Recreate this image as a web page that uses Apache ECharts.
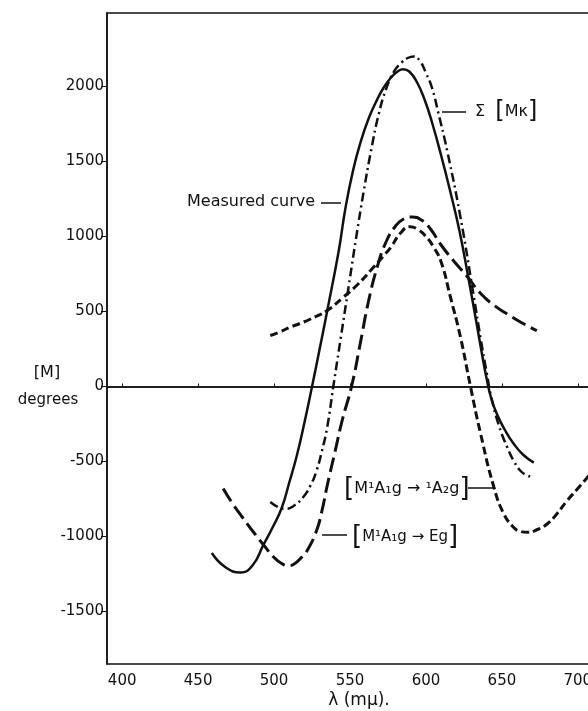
<!DOCTYPE html>
<html>
<head>
<meta charset="utf-8">
<script src="https://cdn.jsdelivr.net/npm/echarts@6/dist/echarts.min.js"></script>
<style>
  html, body { margin: 0; padding: 0; background: #fff; }
  #chart { width: 588px; height: 711px; }
</style>
</head>
<body>
<div id="chart"></div>
<script>
// wavelength (mμ) and molar rotation [M]
const measuredLambda = [459, 468, 478, 486, 493, 499, 505, 510, 515, 520, 525, 530, 535, 542.5, 547, 552, 557, 562, 567, 572, 577, 582, 585, 589, 594, 599, 604, 610, 616, 622, 628, 633, 637, 640, 643, 647, 652, 658, 664, 671]
const measuredM = [-1110, -1205, -1240, -1190, -1055, -940, -810, -640, -460, -240, 0, 250, 505, 900, 1190, 1440, 1630, 1780, 1895, 1990, 2060, 2105, 2115, 2100, 2030, 1915, 1760, 1540, 1300, 1040, 720, 440, 210, 50, -80, -190, -290, -385, -455, -508]

const sumLambda = [497.5, 503, 508, 513, 519, 524, 528, 531.5, 535, 539, 544, 549, 554, 559, 564, 569, 574, 579, 584, 588, 592, 596, 600, 604, 608, 614, 622.5, 631.5, 636, 640, 643, 648, 653.5, 658, 662, 666, 670]
const sumM = [-770, -805, -815, -795, -740, -660, -560, -430, -270, 0, 330, 660, 990, 1300, 1580, 1820, 1990, 2100, 2160, 2190, 2200, 2170, 2090, 1990, 1830, 1570, 1140, 600, 320, 90, -70, -260, -405, -500, -560, -590, -605]

const egLambda = [466.5, 472, 479, 486, 493, 500, 505, 509, 513, 518, 522, 528, 531.5, 535, 540, 545, 551, 557, 562, 568, 574, 580, 585, 591, 597, 603, 609.5, 618, 627, 636, 645, 654, 663, 673]
const egM = [-680, -770, -870, -965, -1055, -1140, -1180, -1195, -1185, -1140, -1090, -960, -830, -660, -440, -220, 0, 300, 560, 800, 970, 1070, 1115, 1130, 1110, 1050, 950, 840, 735, 620, 540, 480, 425, 373]

const a2gLambda = [497.5, 504, 510.5, 517, 524, 535, 545, 555, 565, 572, 577, 583, 589.5, 595, 600, 605, 610, 616, 622.7, 629.3, 636, 644.7, 651.3, 657.8, 662, 667, 673, 680, 686.5, 693, 700, 708.5]
const a2gM = [340, 365, 395, 420, 450, 507, 590, 680, 790, 870, 930, 1020, 1065, 1045, 1000, 930, 830, 600, 330, 0, -316, -670, -850, -940, -965, -972, -955, -915, -845, -760, -680, -580]

const xTicks = [400, 450, 500, 550, 600, 650, 700]
const yTicks = [-1500, -1000, -500, 0, 500, 1000, 1500, 2000]

const font = 'DejaVu Sans'
const ink = '#111'

function zip(xs, ys) {
  return xs.map((x, i) => [x, ys[i]])
}

const chart = echarts.init(document.getElementById('chart'), null, {renderer: 'canvas'})

const lineBase = {
  type: 'line',
  showSymbol: false,
  smooth: 0.5,
  silent: true
}

function textEl(text, x, y, size, align) {
  return {
    type: 'text',
    style: {
      text: text, x: x, y: y, font: size + 'px ' + font, fill: ink,
      align: align, verticalAlign: 'middle', textAlign: align, textVerticalAlign: 'middle'
    }
  }
}

function richEl(text, x, y, size, bracketSize) {
  return {
    type: 'text',
    style: {
      text: text, x: x, y: y, fill: ink,
      align: 'left', verticalAlign: 'middle', textAlign: 'left', textVerticalAlign: 'middle',
      rich: {
        t: {font: size + 'px ' + font, fill: ink},
        b: {font: bracketSize + 'px ' + font, fill: ink}
      }
    }
  }
}

function leader(x1, y1, x2, y2) {
  return {type: 'line', shape: {x1: x1, y1: y1, x2: x2, y2: y2}, style: {stroke: ink, lineWidth: 1.5}}
}

chart.setOption({
  animation: false,
  backgroundColor: '#fff',
  grid: {
    left: 107,
    top: 13,
    right: -2,
    bottom: 47,
    outerBoundsMode: 'none',
    containLabel: false,
    show: true,
    borderColor: ink,
    borderWidth: 1.5,
    backgroundColor: 'transparent'
  },
  xAxis: {
    type: 'value',
    min: 390,
    max: 708,
    splitLine: {show: false},
    axisLine: {lineStyle: {color: ink, width: 1.5}},
    axisTick: {customValues: xTicks, inside: true, length: 3, lineStyle: {color: ink}},
    axisLabel: {
      customValues: xTicks,
      margin: 10,
      color: ink,
      fontFamily: font,
      fontSize: 15,
      formatter: v => String(v)
    }
  },
  yAxis: {
    type: 'value',
    min: -1850,
    max: 2490,
    splitLine: {show: false},
    axisLine: {lineStyle: {color: ink, width: 1.5}},
    axisTick: {customValues: yTicks, length: 6, lineStyle: {color: ink}},
    axisLabel: {
      customValues: yTicks,
      margin: 3,
      color: ink,
      fontFamily: font,
      fontSize: 15,
      formatter: v => String(v)
    }
  },
  series: [
    Object.assign({}, lineBase, {
      name: 'Measured curve',
      data: zip(measuredLambda, measuredM),
      lineStyle: {color: ink, width: 2.5, type: 'solid'},
      markLine: {
        silent: true,
        symbol: ['none', 'none'],
        label: {show: false},
        lineStyle: {color: ink, width: 1.5, type: 'solid'},
        data: [{yAxis: 0}]
      }
    }),
    Object.assign({}, lineBase, {
      name: 'Σ [Mκ]',
      data: zip(sumLambda, sumM),
      lineStyle: {color: ink, width: 2.5, type: [9, 4, 2, 4]}
    }),
    Object.assign({}, lineBase, {
      name: 'Eg',
      data: zip(egLambda, egM),
      lineStyle: {color: ink, width: 3, type: [15, 6]}
    }),
    Object.assign({}, lineBase, {
      name: 'A2g',
      data: zip(a2gLambda, a2gM),
      lineStyle: {color: ink, width: 3, type: [8, 4]}
    })
  ],
  graphic: [
    // axis titles
    textEl('[M]', 47, 373, 16, 'center'),
    textEl('degrees', 48, 400, 15, 'center'),
    textEl('λ (mμ).', 359, 701, 17, 'center'),
    // curve labels
    textEl('Measured curve', 187, 202, 16, 'left'),
    leader(321, 203, 341, 203),

    leader(442, 112, 466, 112),
    richEl('{t|Σ  }{b|[}{t|Mκ}{b|]}', 475, 112, 16, 24),

    richEl('{b|[}{t|M¹A₁g → ¹A₂g}{b|]}', 344, 489, 16, 26),
    leader(468, 488, 494, 488),

    leader(322, 535, 347, 535),
    richEl('{b|[}{t|M¹A₁g → Eg}{b|]}', 352, 537, 15, 26)
  ]
})
</script>
</body>
</html>
